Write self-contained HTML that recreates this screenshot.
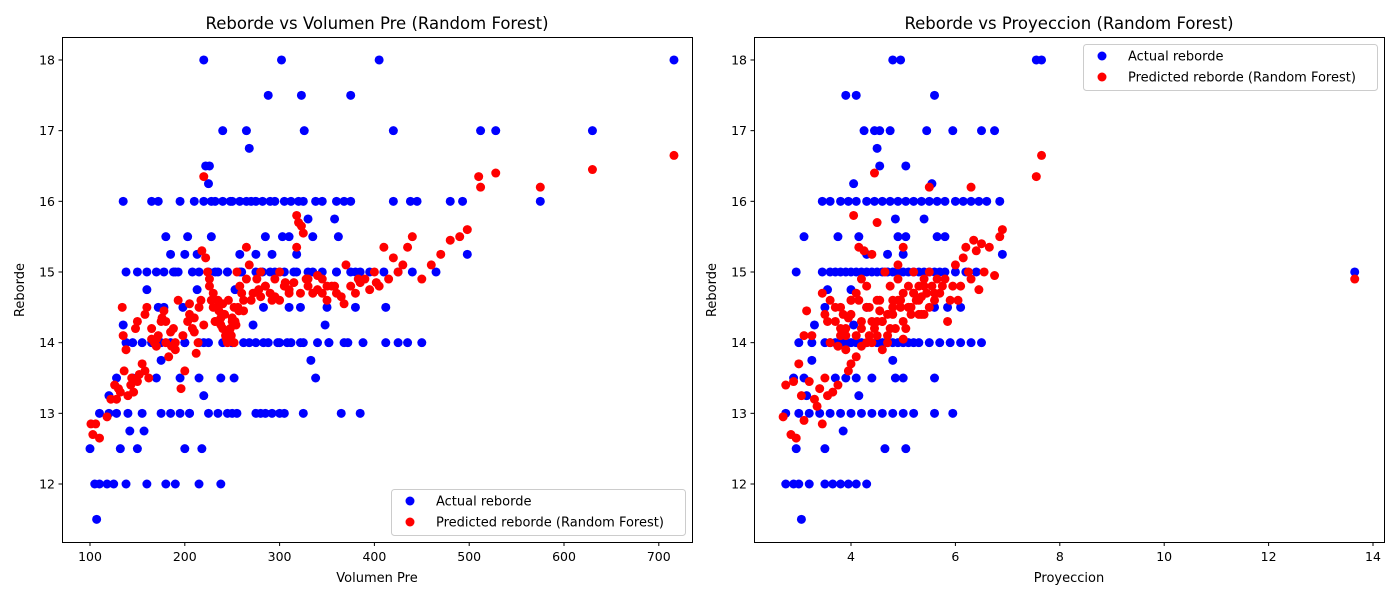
<!DOCTYPE html>
<html><head><meta charset="utf-8"><style>
body{margin:0;background:#fff;font-family:"Liberation Sans","DejaVu Sans",sans-serif}
svg text{font-family:"DejaVu Sans","Liberation Sans",sans-serif;fill:#000}
</style></head><body>
<svg id="c" width="1400" height="600"></svg>
<script>
// Left chart data: Volumen Pre vs Reborde
const leftActualX=[220,302,405,716,288,323,375,240,265,326,420,512,528,630,268,222,226,225,
135,165,172,195,210,220,228,232,240,248,258,265,270,275,282,290,295,305,312,320,325,338,345,360,368,375,420,438,445,480,493,575,
330,358,180,203,228,285,303,310,335,362,185,200,213,258,275,292,318,498,
138,150,160,170,178,188,193,208,215,225,235,245,260,275,290,300,315,330,345,360,375,385,395,410,425,440,465,
160,213,253,172,178,198,283,310,322,350,380,412,135,272,348,
138,155,165,185,200,215,225,240,250,262,275,288,300,312,325,340,352,368,388,412,425,435,450,
175,333,128,145,170,195,215,238,252,338,120,220,
110,120,128,140,155,175,185,195,205,225,245,255,275,285,305,325,365,385,
142,157,100,132,150,200,218,105,110,118,125,138,160,180,190,215,238,107,
145,175,200,220,250,268,283,298,308,322,352,372,190,232,245,258,282,295,305,318,335,360,380,
205,235,250,280,292,300,250];
const leftActualY=[18,18,18,18,17.5,17.5,17.5,17,17,17,17,17,17,17,16.75,16.5,16.5,16.25,
16,16,16,16,16,16,16,16,16,16,16,16,16,16,16,16,16,16,16,16,16,16,16,16,16,16,16,16,16,16,16,16,
15.75,15.75,15.5,15.5,15.5,15.5,15.5,15.5,15.5,15.5,15.25,15.25,15.25,15.25,15.25,15.25,15.25,15.25,
15,15,15,15,15,15,15,15,15,15,15,15,15,15,15,15,15,15,15,15,15,15,15,15,15,15,15,
14.75,14.75,14.75,14.5,14.5,14.5,14.5,14.5,14.5,14.5,14.5,14.5,14.25,14.25,14.25,
14,14,14,14,14,14,14,14,14,14,14,14,14,14,14,14,14,14,14,14,14,14,14,
13.75,13.75,13.5,13.5,13.5,13.5,13.5,13.5,13.5,13.5,13.25,13.25,
13,13,13,13,13,13,13,13,13,13,13,13,13,13,13,13,13,13,
12.75,12.75,12.5,12.5,12.5,12.5,12.5,12,12,12,12,12,12,12,12,12,12,11.5,
14,14,14,14,14,14,14,14,14,14,14,14,15,15,15,15,15,15,15,15,15,15,15,
13,13,13,13,13,13,16];
const leftPredX=[101,103,106,110,118,122,126,130,134,136,138,140,143,146,148,150,152,155,158,160,162,165,168,170,172,175,178,180,183,185,188,190,193,196,198,200,203,205,208,210,212,215,217,218,220,222,224,226,228,230,232,235,238,240,243,245,248,250,252,255,258,262,265,268,272,276,280,285,290,295,300,305,310,315,318,320,323,325,330,335,340,345,350,355,360,365,370,375,380,385,390,395,400,405,410,415,420,425,430,435,440,450,460,470,480,490,498,510,512,528,575,630,716,
135,150,165,190,205,220,240,262,280,300,318,328,345,368,383,402,
232,236,240,244,247,250,252,254,256,246,242,238,234,249,253,257,226,230,210,214,180,186,170,176,158,144,132,128,260,270,285,295,310,330,350,265,278,292,306,322,340,358];
const leftPredY=[12.85,12.7,12.85,12.65,12.95,13.2,13.4,13.35,14.5,13.6,13.9,13.25,13.4,13.3,14.2,13.45,13.55,13.7,14.4,14.5,13.5,14.2,14.0,13.95,14.1,14.3,14.45,14.0,13.8,14.15,14.2,13.9,14.6,13.35,14.1,13.6,14.3,14.55,14.2,14.35,13.85,14.5,14.6,15.3,16.35,15.2,15.0,14.8,14.6,14.5,14.3,14.6,14.35,14.4,14.1,14.0,14.2,14.3,14.5,15.0,14.8,14.6,15.35,15.1,14.7,14.9,15.0,14.8,14.7,14.9,15.0,14.8,14.7,14.85,15.8,15.7,15.65,15.55,14.8,14.7,14.75,14.9,14.6,14.8,14.7,14.65,15.1,14.8,14.7,14.85,14.9,14.75,15.0,14.8,15.35,14.9,15.2,15.0,15.1,15.35,15.5,14.9,15.1,15.25,15.45,15.5,15.6,16.35,16.2,16.4,16.2,16.45,16.65,
14.1,14.3,14.05,14.0,14.4,14.25,14.55,14.45,14.65,14.6,15.35,14.9,14.7,14.55,14.9,14.85,
14.3,14.45,14.2,14.05,14.15,14.35,14.0,14.25,14.5,14.6,14.4,14.25,14.5,14.1,14.3,14.45,14.9,14.7,14.15,14.0,14.3,13.95,14.05,14.35,13.6,13.5,13.3,13.2,14.7,14.6,14.8,14.65,14.75,14.9,14.8,14.9,14.75,14.6,14.85,14.7,14.95,14.8];
// Right chart data: Proyeccion vs Reborde
const rightActualX=[4.8,4.95,7.55,7.65,3.9,4.1,5.6,4.25,4.45,4.55,4.75,5.45,5.95,6.5,6.75,4.5,4.55,5.05,4.05,5.55,
3.45,3.6,3.8,3.95,4.1,4.3,4.45,4.6,4.75,4.9,5.05,5.2,5.35,5.5,5.65,5.8,6.0,6.15,6.3,6.45,6.6,6.85,
4.85,5.4,3.1,3.75,4.15,4.9,5.05,5.65,5.8,4.3,4.7,5.0,6.9,
2.95,3.45,3.6,3.8,4.0,4.2,4.4,4.6,4.8,5.0,5.2,5.4,5.6,5.8,6.0,6.2,6.4,13.65,
3.55,4.0,3.5,4.3,5.6,5.85,6.1,3.3,4.05,
3.0,3.25,3.5,3.7,3.9,4.1,4.3,4.5,4.7,4.9,5.1,5.3,5.5,5.7,5.9,6.1,6.3,6.5,
3.25,4.8,2.9,3.1,3.7,3.9,4.1,4.4,4.85,5.0,5.6,3.15,4.15,
2.75,3.0,3.2,3.4,3.6,3.8,4.0,4.2,4.4,4.6,4.8,5.0,5.2,5.6,5.95,
3.85,2.95,3.5,4.65,5.05,2.75,2.9,3.0,3.2,3.5,3.65,3.8,3.95,4.1,4.3,3.05,
3.6,3.8,4.0,4.2,4.6,4.8,5.0,5.2,3.7,3.9,4.1,4.3,4.5,4.7,4.9,5.1,5.3,5.5,5.7];
const rightActualY=[18,18,18,18,17.5,17.5,17.5,17,17,17,17,17,17,17,17,16.75,16.5,16.5,16.25,16.25,
16,16,16,16,16,16,16,16,16,16,16,16,16,16,16,16,16,16,16,16,16,16,
15.75,15.75,15.5,15.5,15.5,15.5,15.5,15.5,15.5,15.25,15.25,15.25,15.25,
15,15,15,15,15,15,15,15,15,15,15,15,15,15,15,15,15,15,
14.75,14.75,14.5,14.5,14.5,14.5,14.5,14.25,14.25,
14,14,14,14,14,14,14,14,14,14,14,14,14,14,14,14,14,14,
13.75,13.75,13.5,13.5,13.5,13.5,13.5,13.5,13.5,13.5,13.5,13.25,13.25,
13,13,13,13,13,13,13,13,13,13,13,13,13,13,13,
12.75,12.5,12.5,12.5,12.5,12,12,12,12,12,12,12,12,12,12,11.5,
14,14,14,14,14,14,14,14,15,15,15,15,15,15,15,15,15,15,15];
const rightPredX=[2.7,2.75,2.85,2.9,2.95,3.0,3.05,3.1,3.1,3.15,3.2,3.25,3.3,3.35,3.4,3.45,3.5,3.5,3.55,3.6,3.65,3.7,3.75,3.8,3.85,3.9,3.95,4.0,4.0,4.05,4.1,4.15,4.2,4.2,4.25,4.3,4.35,4.4,4.45,4.5,4.5,4.55,4.6,4.65,4.7,4.75,4.8,4.85,4.9,4.95,5.0,5.0,5.05,5.1,5.15,5.2,5.25,5.3,5.35,5.4,5.45,5.5,5.55,5.6,5.65,5.7,5.75,5.8,5.85,5.9,5.95,6.0,6.05,6.1,6.15,6.2,6.25,6.3,6.35,6.4,6.45,6.5,6.55,6.65,6.75,6.85,6.9,7.55,7.65,13.65,
3.6,3.9,4.1,4.3,4.5,4.7,4.9,5.1,5.3,3.8,4.0,4.2,4.4,4.6,4.8,5.0,5.2,5.4,4.45,5.5,6.3,
3.7,3.8,3.9,4.0,4.1,4.2,4.3,4.4,4.5,4.6,4.7,4.8,4.9,5.0,5.1,5.2,5.3,5.4,5.5,5.6,3.75,3.95,4.15,4.35,4.55,4.75,4.95,5.15,5.35,3.45,3.55];
const rightPredY=[12.95,13.4,12.7,13.45,12.65,13.7,13.25,14.1,12.9,14.45,13.45,14.1,13.2,13.1,13.35,12.85,13.5,14.4,13.25,14.6,13.3,14.5,13.4,14.2,14.4,13.9,13.6,14.6,13.7,15.8,14.1,15.35,14.3,13.95,15.3,14.0,14.5,15.25,14.2,15.7,14.1,14.6,14.3,15.0,14.4,14.8,14.5,14.2,15.1,14.6,14.7,15.35,14.2,14.8,14.5,15.0,14.6,14.8,14.4,14.9,14.7,15.0,14.8,14.6,14.9,14.7,14.8,14.9,14.3,14.6,14.8,15.1,14.6,14.8,15.2,15.35,15.0,14.9,15.45,15.3,14.75,15.4,15.0,15.35,14.95,15.5,15.6,16.35,16.65,14.9,
14.0,14.2,13.8,14.8,14.3,14.0,14.9,14.5,14.4,14.1,14.6,14.9,14.3,13.9,14.6,14.05,14.7,14.4,16.4,16.2,16.2,
14.3,14.5,14.1,14.4,14.7,14.2,14.5,14.0,14.6,14.3,14.1,14.4,14.6,14.3,14.5,14.7,14.6,14.8,14.5,14.7,13.95,14.35,14.6,14.1,14.45,14.2,14.5,14.4,14.65,14.7,14.3];

const NS='http://www.w3.org/2000/svg';
const svg=document.getElementById('c');
function mk(tag,attrs,parent){const e=document.createElementNS(NS,tag);for(const k in attrs)e.setAttribute(k,attrs[k]);(parent||svg).appendChild(e);return e;}
const yScale=v=>484-(v-12)*70.67;
function panel(cfg){
  const g=mk('g',{});
  
  
  const xs=v=>cfg.x0+(v-cfg.v0)*cfg.k;
  const ax=mk('rect',{x:cfg.L,y:37,width:630,height:505,fill:'#fff',stroke:'none'},g);
  
  
  for(let i=0;i<cfg.ax.length;i++){
    const c=mk('circle',{cx:xs(cfg.ax[i]),cy:yScale(cfg.ay[i]),r:4.5,fill:'#0000ff'},g);
    
    
  }
  for(let i=0;i<cfg.px.length;i++){
    const c=mk('circle',{cx:xs(cfg.px[i]),cy:yScale(cfg.py[i]),r:4.5,fill:'#ff0000'},g);
    
    
  }
  const fr=mk('rect',{x:cfg.L+0.5,y:37.5,width:630,height:505,fill:'none',stroke:'#000','stroke-width':1},g);
  
  
  cfg.xt.forEach(t=>{const x=xs(t);mk('line',{x1:x,x2:x,y1:542.5,y2:546,stroke:'#000'},g);
    const tx=mk('text',{x:x,y:561,'font-size':12.5,'text-anchor':'middle'},g);tx.textContent=t;
    
    });
  [12,13,14,15,16,17,18].forEach(t=>{const y=yScale(t);mk('line',{x1:cfg.L-3.5,x2:cfg.L+0.5,y1:y,y2:y,stroke:'#000'},g);
    const tx=mk('text',{x:cfg.L-7,y:y+4.5,'font-size':12.5,'text-anchor':'end'},g);tx.textContent=t;
    
    });
  const ti=mk('text',{x:cfg.L+315,y:29,'font-size':16.5,'text-anchor':'middle'},g);ti.textContent=cfg.title;
  
  
  const xl=mk('text',{x:cfg.L+315,y:582,'font-size':13,'text-anchor':'middle'},g);xl.textContent=cfg.xlabel;
  
  
  const yl=mk('text',{x:0,y:0,'font-size':13,'text-anchor':'middle',transform:`translate(${cfg.L-38},290) rotate(-90)`},g);yl.textContent='Reborde';
  
  
  const lg=mk('g',{},g);
  
  
  mk('rect',{x:cfg.lx+0.5,y:cfg.ly+0.5,width:294,height:46,rx:3,fill:'#fff','fill-opacity':0.8,stroke:'#ccc'},lg);
  [['#0000ff','Actual reborde'],['#ff0000','Predicted reborde (Random Forest)']].forEach((e,i)=>{
    const y=cfg.ly+12+i*21;
    mk('circle',{cx:cfg.lx+19,cy:y,r:4.5,fill:e[0]},lg);
    const t=mk('text',{x:cfg.lx+45,y:y+4.5,'font-size':13},lg);t.textContent=e[1];
    
    
  });
}
panel({name:'left-chart',L:62,x0:90,v0:100,k:0.948,ax:leftActualX,ay:leftActualY,px:leftPredX,py:leftPredY,
  xt:[100,200,300,400,500,600,700],title:'Reborde vs Volumen Pre (Random Forest)',xlabel:'Volumen Pre',lx:391,ly:489});
panel({name:'right-chart',L:754,x0:746.6,v0:2,k:52.2,ax:rightActualX,ay:rightActualY,px:rightPredX,py:rightPredY,
  xt:[4,6,8,10,12,14],title:'Reborde vs Proyeccion (Random Forest)',xlabel:'Proyeccion',lx:1083,ly:44});
</script>
</body></html>
